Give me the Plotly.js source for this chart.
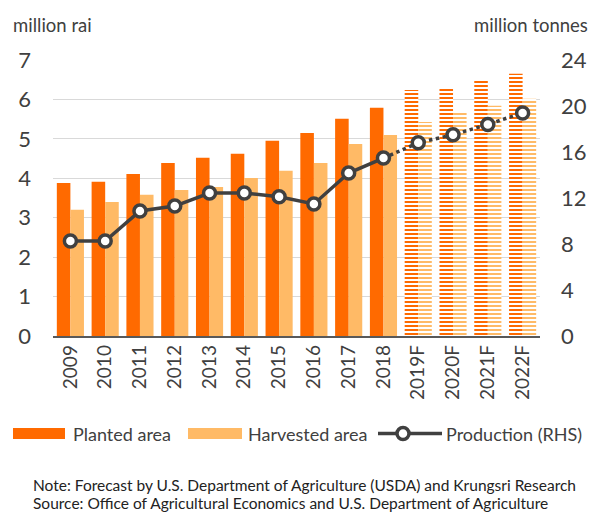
<!DOCTYPE html>
<html><head><meta charset="utf-8">
<script src="https://cdn.plot.ly/plotly-3.0.1.min.js"></script>
<style>html,body{margin:0;padding:0;background:#fff}#c{width:592px;height:512px}</style>
</head><body><div id="c"></div>
<script>
const years = ['2009','2010','2011','2012','2013','2014','2015','2016','2017','2018','2019F','2020F','2021F','2022F'];
const planted = [3.88,3.91,4.11,4.39,4.52,4.62,4.95,5.15,5.51,5.79,6.24,6.30,6.52,6.65];
const harvested = [3.20,3.40,3.58,3.70,3.78,4.01,4.19,4.39,4.87,5.10,5.43,5.66,5.84,6.02];
const production = [8.26,8.26,10.87,11.3,12.43,12.43,12.1,11.48,14.17,15.47,16.8,17.5,18.4,19.4];
const legendLabels = ['Planted area','Harvested area','Production (RHS)'];
const noteLines = ['Note: Forecast by U.S. Department of Agriculture (USDA) and Krungsri Research',
                   'Source: Office of Agricultural Economics and U.S. Department of Agriculture'];
const isForecast = years.map(y => y.endsWith('F'));
const histYears = years.filter((y,i)=>!isForecast[i]);
const histProd = production.filter((v,i)=>!isForecast[i]);
const lastHist = histYears.length - 1;
const fcYears = years.slice(lastHist);
const fcProd = production.slice(lastHist);
const fcMarkYears = years.filter((y,i)=>isForecast[i]);
const fcMarkProd = production.filter((v,i)=>isForecast[i]);

const cPlant = '#FF6A00', cHarv = '#FFBA66', cLine = '#404040';
const txt = '#404040', font = 'Lato, sans-serif';
const shapes = isForecast.map(f => f ? '-' : '');

const traces = [
  {type:'bar', name:legendLabels[0], x:years, y:planted,
   marker:{color:cPlant, pattern:{shape:shapes, fgcolor:cPlant, bgcolor:'#ffffff', size:4, solidity:0.5}}},
  {type:'bar', name:legendLabels[1], x:years, y:harvested,
   marker:{color:cHarv, pattern:{shape:shapes, fgcolor:cHarv, bgcolor:'#ffffff', size:4, solidity:0.5}}},
  {type:'scatter', mode:'lines', x:fcYears, y:fcProd, yaxis:'y2',
   line:{color:cLine, width:3.5, dash:'dot'}},
  {type:'scatter', mode:'lines+markers', name:legendLabels[2], x:histYears, y:histProd, yaxis:'y2',
   line:{color:cLine, width:3.5},
   marker:{size:12, color:'#ffffff', line:{color:cLine, width:3.5}}},
  {type:'scatter', mode:'markers', x:fcMarkYears, y:fcMarkProd, yaxis:'y2',
   marker:{size:12, color:'#ffffff', line:{color:cLine, width:3.5}}}
];

// custom legend (paper coordinates; plot area x 53..540, y 60..336)
const px = v => (v-53)/487, py = v => (336-v)/276;
const legShapes = [
  {type:'rect', xref:'paper', yref:'paper', x0:px(13), x1:px(65), y0:py(439), y1:py(428), fillcolor:cPlant, line:{width:0}},
  {type:'rect', xref:'paper', yref:'paper', x0:px(188), x1:px(242), y0:py(439), y1:py(428), fillcolor:cHarv, line:{width:0}},
  {type:'line', xref:'paper', yref:'paper', x0:px(378), x1:px(442), y0:py(433.5), y1:py(433.5), line:{color:cLine, width:3.5}},
  {type:'circle', xref:'paper', yref:'paper', x0:px(397), x1:px(409), y0:py(439.5), y1:py(427.5), fillcolor:'#ffffff', line:{color:cLine, width:3.5}}
];
const legAnn = [[71,legendLabels[0]],[246,legendLabels[1]],[444,legendLabels[2]]].map(([x,t]) => (
  {text:t, xref:'paper', yref:'paper', x:px(x), y:py(433.5), xanchor:'left', yanchor:'middle', showarrow:false, font:{size:18, color:txt}}
));
const noteAnn = noteLines.map((t,i) => (
  {text:t, xref:'paper', yref:'paper', x:px(31), y:py(485 + 18*i), xanchor:'left', yanchor:'middle', showarrow:false, font:{size:15.5, color:'#222'}}
));

const layout = {
  width:592, height:512,
  margin:{l:53, r:52, t:60, b:176, autoexpand:false},
  paper_bgcolor:'#fff', plot_bgcolor:'#fff',
  font:{family:font, color:txt},
  barmode:'group', bargap:0.22, bargroupgap:0,
  showlegend:false,
  xaxis:{type:'category', range:[-0.5, years.length-0.5], automargin:false, tickangle:-90, tickfont:{size:19, color:txt}, showline:true, linecolor:'#595959', linewidth:1.5, ticks:'', showgrid:false},
  yaxis:{automargin:false, range:[0,7], dtick:1, tickfont:{size:22, color:txt}, showgrid:true, gridcolor:'#d9d9d9', gridwidth:1, zeroline:false, ticklabelstandoff:21, showline:false},
  yaxis2:{automargin:false, range:[0,24], dtick:4, overlaying:'y', side:'right', tickfont:{size:22, color:txt}, showgrid:false, zeroline:false, ticklabelstandoff:20},
  shapes:legShapes,
  annotations:[
    {text:'million rai', xref:'paper', yref:'paper', x:px(11), y:py(25), xanchor:'left', yanchor:'middle', showarrow:false, font:{size:18.5, color:txt}},
    {text:'million tonnes', xref:'paper', yref:'paper', x:px(590), y:py(25), xanchor:'right', yanchor:'middle', showarrow:false, font:{size:18.5, color:txt}}
  ].concat(legAnn, noteAnn)
};
Plotly.newPlot('c', traces, layout, {displayModeBar:false, staticPlot:true});
</script></body></html>
